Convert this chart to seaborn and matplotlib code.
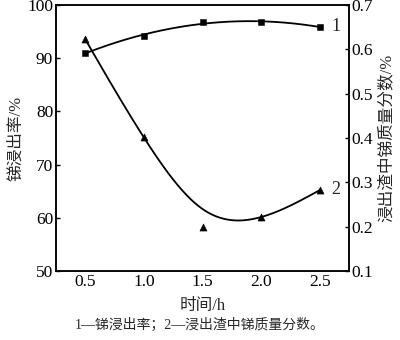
import numpy as np
import pandas as pd
import seaborn as sns
import matplotlib
matplotlib.use("Agg")
import matplotlib.pyplot as plt

time_h = [0.5, 1.0, 1.5, 2.0, 2.5]
leach_rate = [91.0, 94.2, 96.8, 96.8, 95.9]
residue_sb = [0.623, 0.402, 0.199, 0.222, 0.283]

sns.set_theme(style="white")
FAM = ["Liberation Serif", "Noto Sans CJK SC"]
plt.rcParams["font.family"] = FAM
plt.rcParams["axes.unicode_minus"] = False

df = pd.DataFrame({"t": time_h, "r": leach_rate, "s": residue_sb})


def smooth_fit(x, y, w, lam, n=201):
    """Penalised (Whittaker) smoothing curve through the data."""
    x = np.asarray(x, float)
    y = np.asarray(y, float)
    g = np.linspace(x.min(), x.max(), n)
    h = g[1] - g[0]
    idx = np.round((x - g[0]) / h).astype(int)
    W = np.zeros((n, n))
    b = np.zeros(n)
    for i, k in enumerate(idx):
        W[k, k] += w[i]
        b[k] += w[i] * y[i]
    D = np.diff(np.eye(n), 2, axis=0) / h**2
    return g, np.linalg.solve(W + lam * h * D.T @ D, b)


fig = plt.figure(figsize=(4, 3.4), dpi=100)
ax = fig.add_axes([0.14, 0.203, 0.7325, 0.782])
ax2 = ax.twinx()

xx = np.linspace(0.5, 2.5, 201)
c1 = np.polyfit(time_h, leach_rate, 2)
_, y2 = smooth_fit(time_h, residue_sb, [20, 20, 1, 20, 20], 0.02)
fit = pd.DataFrame({"x": xx, "y1": np.polyval(c1, xx), "y2": y2})

sns.lineplot(data=fit, x="x", y="y1", ax=ax, color="black", lw=1.3)
sns.scatterplot(data=df, x="t", y="r", ax=ax, marker="s", color="black", s=22, edgecolor="black", zorder=5)
sns.lineplot(data=fit, x="x", y="y2", ax=ax2, color="black", lw=1.3)
sns.scatterplot(data=df, x="t", y="s", ax=ax2, marker="^", color="black", s=26, edgecolor="black", zorder=5)

ax.set_xlim(0.25, 2.75)
ax.set_ylim(50, 100)
ax2.set_ylim(0.1, 0.7)
ax.set_xticks([0.5, 1.0, 1.5, 2.0, 2.5])
ax.set_xticklabels(["0.5", "1.0", "1.5", "2.0", "2.5"])
ax.set_yticks([50, 60, 70, 80, 90, 100])
ax2.set_yticks([0.1, 0.2, 0.3, 0.4, 0.5, 0.6, 0.7])
ax2.set_yticklabels(["0.1", "0.2", "0.3", "0.4", "0.5", "0.6", "0.7"])

for a in (ax, ax2):
    a.tick_params(direction="in", length=3, width=1, labelsize=12.5, colors="black", pad=2)
    for sp in a.spines.values():
        sp.set_color("black")
        sp.set_linewidth(1.1)
ax.tick_params(axis="x", top=False)

ax.set_xlabel("时间/h", fontsize=12, labelpad=6)
ax.set_ylabel("锑浸出率/%", fontsize=12, labelpad=2)
ax2.set_ylabel("浸出渣中锑质量分数/%", fontsize=12, labelpad=4)

ax.text(2.6, leach_rate[-1], "1", fontsize=13, va="center", ha="left")
ax2.text(2.6, residue_sb[-1], "2", fontsize=13, va="center", ha="left")

fig.text(0.5, 0.045, "1—锑浸出率；2—浸出渣中锑质量分数。", ha="center", va="center", fontsize=10)

fig.savefig("out.png", dpi=100)
